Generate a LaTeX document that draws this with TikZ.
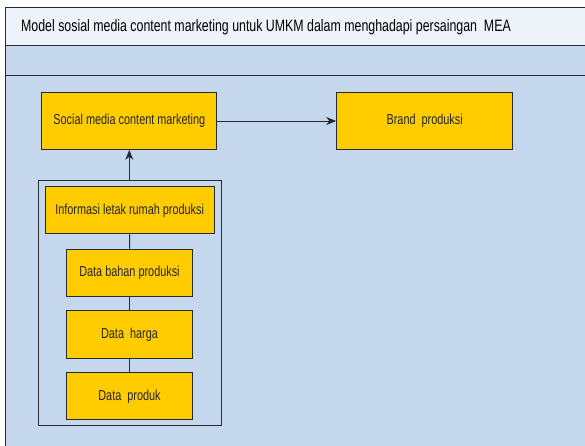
\documentclass[tikz,border=0pt]{standalone}
\usepackage{fontspec}
\setmainfont{Liberation Sans}[FakeStretch=0.75]
\usetikzlibrary{arrows.meta}
\definecolor{umkmblue}{HTML}{C5D7EC}
\definecolor{umkmtitle}{HTML}{EEF3FA}
\definecolor{umkmyellow}{HTML}{FFCC00}
\definecolor{umkmline}{HTML}{262B33}
\tikzset{
  box/.style={draw=umkmline, line width=1pt, fill=umkmyellow, text=black!85,
    inner sep=0pt, font=\fontsize{14.5}{17}\selectfont},
  wrap/.style={draw=umkmline, line width=1pt, inner sep=0pt},
  link/.style={draw=umkmline, line width=1pt},
  tip/.style={-{Stealth[length=10pt,width=8pt,inset=3pt]}}
}
\begin{document}
\begin{tikzpicture}[x=1pt,y=-1pt]
  \useasboundingbox (0,0) rectangle (585,445);
  % swimlane frame
  \fill[umkmtitle] (5,7.5) rectangle (592,45);
  \fill[umkmblue] (5,45) rectangle (592,450);
  \draw[link] (592,7.5) -- (5,7.5) -- (5,450);
  \draw[link] (5,45) -- (592,45);
  \draw[link] (5,75) -- (592,75);
  \node (title) at (266,27.5) {\fontsize{16.5}{19}\selectfont Model sosial media content marketing untuk UMKM dalam menghadapi persaingan\ \ MEA};

  \node[box, minimum width=175.3pt, minimum height=56.6pt] (smcm) at (129.3,121) {Social media content marketing};
  \node[box, minimum width=176pt, minimum height=56.6pt] (brand) at (424.7,121) {Brand\ \ produksi};

  \node[wrap, minimum width=182.3pt, minimum height=245.7pt] (group) at (129.9,302.9) {};
  \node[box, minimum width=169.3pt, minimum height=47.3pt] (info) at (129.7,210.3) {Informasi letak rumah produksi};
  \node[box, minimum width=125.6pt, minimum height=47pt] (bahan) at (129.5,272.5) {Data bahan produksi};
  \node[box, minimum width=125.6pt, minimum height=47.6pt] (harga) at (129.5,334.5) {Data\ \ harga};
  \node[box, minimum width=125.6pt, minimum height=47.3pt] (produk) at (129.5,396.3) {Data\ \ produk};

  \draw[link, tip] (smcm) -- (brand);
  \draw[link, tip] (group.north -| smcm.south) -- (smcm.south);
  \draw[link] (info) -- (bahan);
  \draw[link] (bahan) -- (harga);
  \draw[link] (harga) -- (produk);
\end{tikzpicture}
\end{document}
